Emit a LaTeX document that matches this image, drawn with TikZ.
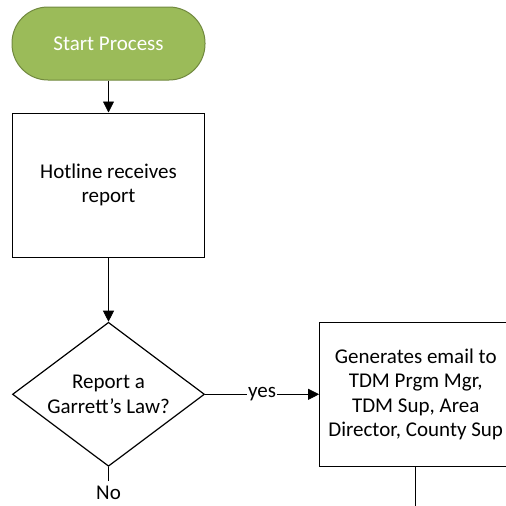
\documentclass[tikz,border=0pt]{standalone}
\usepackage{fontspec}
\setmainfont{Carlito}
\usetikzlibrary{positioning,shapes.geometric,arrows.meta}
\definecolor{startgreen}{HTML}{9BBB59}
\definecolor{startedge}{HTML}{71893F}
\tikzset{
  every node/.style={font=\fontsize{21pt}{24.5pt}\selectfont},
  terminal/.style={draw=startedge, fill=startgreen, text=white, line width=1pt,
    rounded corners=36pt, minimum width=193pt, minimum height=73pt},
  process/.style={draw, line width=1.2pt, align=center, inner sep=0pt},
  decision/.style={draw, diamond, line width=1.2pt, align=center, inner sep=0pt,
    minimum width=192pt, minimum height=144pt, aspect=1.333},
  link/.style={line width=0.8pt},
  flow/.style={link, -{Triangle[length=11pt,width=11pt]}}
}
\begin{document}
\begin{tikzpicture}
  \useasboundingbox (0,0) rectangle (506pt,-506pt);
  \node[terminal] (start) at (108.5pt,-43.5pt) {Start Process};
  \node[process, minimum width=192pt, minimum height=144pt,
    below=32pt of start] (hotline) {Hotline receives\\report};
  \node[decision, below=64pt of hotline] (garrett) {Report a\\Garrett’s Law?};
  \node[process, minimum width=192pt, minimum height=144pt,
    right=114pt of garrett] (email)
    {Generates email to\\TDM Prgm Mgr,\\TDM Sup, Area\\Director, County Sup};
  \node[inner sep=0pt, below=19pt of garrett] (no) {No};
  \coordinate[below=50pt of email.south] (emailend);

  % connectors
  \draw[flow] (start) -- (hotline);
  \draw[flow] (hotline) -- (garrett);
  \draw[flow] (garrett) -- node[fill=white, inner sep=1pt] {yes} (email);
  \draw[link, shorten >=5pt] (garrett) -- (no);
  \draw[link] (email) -- (emailend);
\end{tikzpicture}
\end{document}
